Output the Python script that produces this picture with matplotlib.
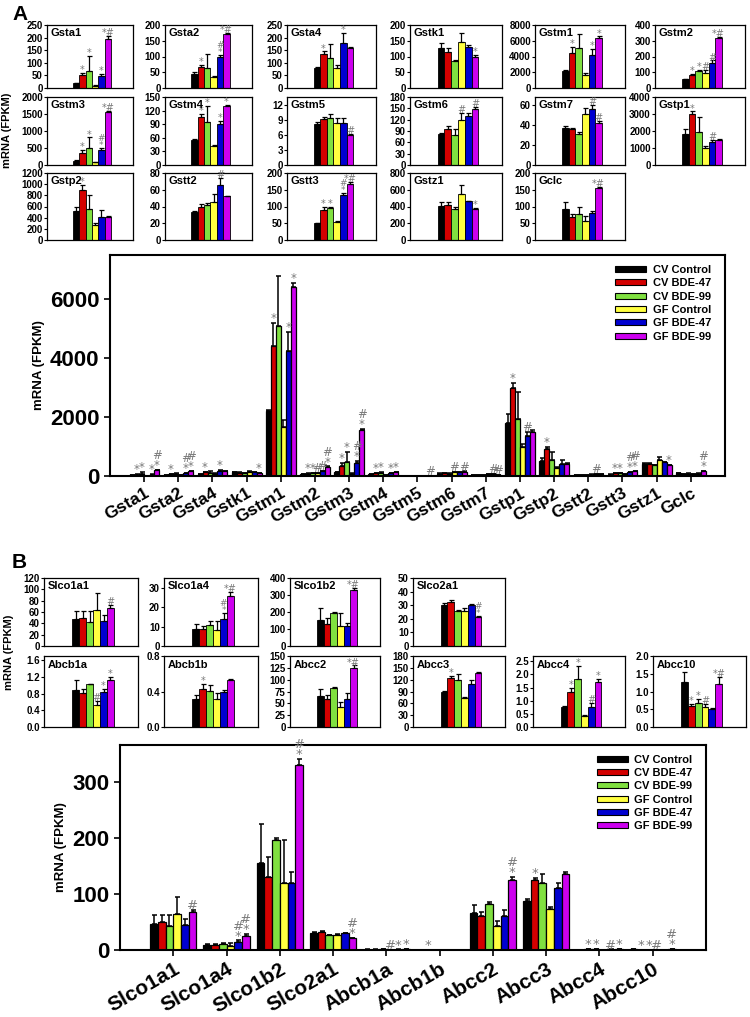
import numpy as np
import matplotlib
matplotlib.use("Agg")
import matplotlib.pyplot as plt
from matplotlib.patches import Patch

plt.rcParams['font.family'] = ['Liberation Sans', 'DejaVu Sans']
plt.rcParams['font.weight'] = 'bold'

# -------------------------------
# data
# -------------------------------
groups = ["CV Control", "CV BDE-47", "CV BDE-99", "GF Control", "GF BDE-47", "GF BDE-99"]
colors = ["#000000", "#d40000", "#80e040", "#ffff40", "#0000d0", "#cc00ee"]

genes_a = ["Gsta1", "Gsta2", "Gsta4", "Gstk1", "Gstm1", "Gstm2", "Gstm3", "Gstm4", "Gstm5",
           "Gstm6", "Gstm7", "Gstp1", "Gstp2", "Gstt2", "Gstt3", "Gstz1", "Gclc"]
mean_a = [
    [18, 50, 68, 8, 47, 195],
    [45, 68, 65, 35, 97, 170],
    [80, 135, 118, 80, 180, 160],
    [127, 113, 85, 147, 130, 100],
    [2200, 4400, 5100, 1650, 4250, 6400],
    [55, 80, 108, 95, 160, 315],
    [120, 340, 490, 80, 440, 1560],
    [55, 105, 95, 42, 90, 130],
    [8.2, 9.2, 9.4, 8.3, 8.4, 5.9],
    [83, 95, 80, 120, 130, 148],
    [37, 36, 31, 51, 56, 42],
    [1800, 3000, 1950, 1000, 1350, 1500],
    [520, 900, 550, 270, 420, 420],
    [34, 40, 42, 45, 66, 52],
    [50, 90, 96, 53, 135, 168],
    [410, 420, 375, 550, 460, 370],
    [92, 70, 78, 58, 80, 155],
]
err_a = [
    [3, 8, 60, 2, 10, 10],
    [5, 5, 42, 3, 8, 5],
    [3, 10, 58, 12, 40, 4],
    [17, 15, 3, 28, 8, 5],
    [50, 800, 1700, 250, 650, 150],
    [3, 10, 5, 18, 15, 8],
    [20, 110, 320, 20, 60, 40],
    [2, 8, 35, 3, 8, 3],
    [0.4, 0.4, 0.8, 1.0, 1.0, 0.3],
    [3, 8, 15, 18, 8, 5],
    [2, 1.5, 2, 6, 4, 2],
    [300, 150, 900, 100, 150, 50],
    [80, 80, 260, 30, 110, 15],
    [1, 3, 2, 10, 8, 1],
    [2, 8, 3, 5, 5, 4],
    [40, 30, 15, 110, 10, 15],
    [20, 8, 22, 15, 8, 3],
]
marks_a = [
    ["", "*", "*", "", "*", "*#"],
    ["", "*", "", "", "#\n*", "*#"],
    ["", "*", "", "", "*", ""],
    ["", "", "", "", "", "*"],
    ["", "*", "", "", "*", "*"],
    ["", "*", "*", "#", "#", "*#"],
    ["", "*", "*", "", "#\n*", "*#"],
    ["", "*", "*", "", "*", "*"],
    ["", "", "", "", "", "#"],
    ["", "", "", "#", "", "#"],
    ["", "", "", "", "#", "#"],
    ["", "*", "", "", "#", ""],
    ["", "*", "", "", "", ""],
    ["", "", "", "", "#", ""],
    ["", "*", "*", "", "#\n*", "*#"],
    ["", "", "", "", "", "*"],
    ["", "", "", "", "", "*#"],
]
ytop_a = [250, 200, 250, 200, 8000, 400, 2000, 150, 13.5, 180, 68, 4000, 1200, 80, 200, 800, 200]
ystep_a = [50, 50, 50, 50, 2000, 100, 500, 30, 3, 30, 20, 1000, 200, 20, 50, 200, 50]

genes_b = ["Slco1a1", "Slco1a4", "Slco1b2", "Slco2a1", "Abcb1a", "Abcb1b", "Abcc2", "Abcc3", "Abcc4", "Abcc10"]
mean_b = [
    [47, 50, 42, 64, 45, 67],
    [9, 9, 11, 8, 14, 25.5],
    [155, 130, 195, 120, 120, 330],
    [30, 32, 26, 26, 30, 21],
    [0.88, 0.82, 1.02, 0.52, 0.83, 1.12],
    [0.32, 0.43, 0.41, 0.32, 0.40, 0.53],
    [65, 60, 82, 42, 60, 125],
    [88, 124, 120, 73, 110, 136],
    [0.75, 1.35, 1.82, 0.42, 0.75, 1.70],
    [1.27, 0.58, 0.68, 0.55, 0.52, 1.20],
]
err_b = [
    [15, 12, 20, 30, 10, 5],
    [2.5, 1.5, 2, 5, 3, 2.5],
    [70, 35, 5, 75, 18, 10],
    [1.5, 1.5, 0.5, 2, 1, 1],
    [0.25, 0.1, 0.02, 0.1, 0.08, 0.08],
    [0.04, 0.05, 0.06, 0.06, 0.02, 0.01],
    [15, 8, 3, 10, 12, 5],
    [3, 5, 15, 3, 10, 3],
    [0.05, 0.15, 0.5, 0.05, 0.15, 0.12],
    [0.28, 0.07, 0.12, 0.1, 0.02, 0.22],
]
marks_b = [
    ["", "", "", "", "", "#"],
    ["", "", "", "", "#\n*", "*#"],
    ["", "", "", "", "", "*#"],
    ["", "", "", "", "", "#\n*"],
    ["", "", "", "#", "*", "*"],
    ["", "*", "", "", "", ""],
    ["", "", "", "", "", "*#"],
    ["", "*", "", "", "", ""],
    ["", "*", "*", "", "#", "*"],
    ["", "*", "*", "#", "", "*#"],
]
ytop_b = [120, 35, 400, 50, 1.7, 0.8, 150, 180, 2.7, 2.0]
ystep_b = [20, 10, 100, 10, 0.4, 0.4, 25, 30, 0.5, 0.5]
ydec_b = [0, 0, 0, 0, 1, 1, 0, 0, 1, 1]

# -------------------------------
# layout helpers
# -------------------------------
W, H = 750, 1017
fig = plt.figure(figsize=(W / 100, H / 100), dpi=100)
GREY = "#7a7a7a"
MARK_FONT = ["DejaVu Sans"]


def px_axes(x0, y0, x1, y1):
    return fig.add_axes([x0 / W, 1 - y1 / H, (x1 - x0) / W, (y1 - y0) / H])


def small_panel(box, name, means, errs, marks, ytop, ystep, ndec=0):
    ax = px_axes(*box)
    x = np.arange(6)
    ax.bar(x, means, width=1.0, color=colors, edgecolor="black", linewidth=0.6)
    ax.errorbar(x, means, yerr=[np.zeros(6), errs], fmt="none", ecolor="black",
                elinewidth=0.9, capsize=1.8, capthick=0.9)
    for xi, m, e, t in zip(x, means, errs, marks):
        if t:
            fs = 6.5 if "\n" in t else 7
            ax.annotate(t, (xi, m + e), xytext=(0, -1.5), textcoords="offset points",
                        ha="center", va="bottom", fontsize=fs, color=GREY,
                        linespacing=0.7, fontweight="normal", family=MARK_FONT)
    ax.set_xlim(-4.55, 8.95)
    ax.set_ylim(0, ytop)
    ticks = np.arange(0, ytop + 1e-9, ystep)
    ax.set_yticks(ticks)
    ax.set_yticklabels([f"{t:.{ndec}f}" for t in ticks])
    ax.tick_params(axis="y", labelsize=7, length=2, pad=1, width=0.8)
    ax.set_xticks([])
    for s in ax.spines.values():
        s.set_linewidth(0.9)
    ax.text(0.04, 0.95, name, transform=ax.transAxes, ha="left", va="top",
            fontsize=8, fontweight="bold")
    return ax


def main_panel(box, genes, means, errs, marks, ytop, yticks, xfs, yfs, mfs):
    ax = px_axes(*box)
    n = len(genes)
    pos = np.arange(1, n + 1)
    bw = 0.145
    means = np.array(means)
    errs = np.array(errs)
    for i in range(6):
        xs = pos + (i - 2.5) * bw
        ax.bar(xs, means[:, i], width=bw, color=colors[i], edgecolor="black", linewidth=0.9)
        ax.errorbar(xs, means[:, i], yerr=[np.zeros(n), errs[:, i]], fmt="none",
                    ecolor="black", elinewidth=1.1, capsize=1.8, capthick=1.1)
        for g in range(n):
            t = marks[g][i]
            if t:
                t = t.replace("*#", "#\n*")
                ax.annotate(t, (xs[g], means[g, i] + errs[g, i]), xytext=(0, -1.5),
                            textcoords="offset points", ha="center", va="bottom",
                            fontsize=mfs, color=GREY, linespacing=0.7,
                            fontweight="normal", family=MARK_FONT)
    ax.set_xlim(0, n + 1)
    ax.set_ylim(0, ytop)
    ax.set_xticks(pos)
    ax.set_xticklabels(genes, rotation=30, ha="right", rotation_mode="anchor",
                       fontsize=xfs, fontweight="bold")
    ax.set_yticks(yticks)
    ax.tick_params(axis="y", labelsize=yfs, length=4, width=1.2)
    ax.tick_params(axis="x", length=4, width=1.2, pad=3)
    for s in ax.spines.values():
        s.set_linewidth(1.5)
    ax.set_ylabel("mRNA (FPKM)", fontsize=9.5, fontweight="bold")
    handles = [Patch(facecolor=c, edgecolor="black", linewidth=0.8, label=g)
               for c, g in zip(colors, groups)]
    ax.legend(handles=handles, loc="upper right", bbox_to_anchor=(0.985, 0.975),
              frameon=False, fontsize=8, handlelength=2.8, handleheight=0.45,
              labelspacing=0.3, handletextpad=0.6, borderaxespad=0)
    return ax


# -------------------------------
# panel A
# -------------------------------
fig.text(12 / W, 1 - 14 / H, "A", fontsize=15, fontweight="bold", va="center")
cols_a = [(47, 133), (165, 252), (287, 376), (410, 502), (535, 625), (655, 745)]
rows_a = [(25, 88), (97, 165), (173, 240)]
for k, g in enumerate(genes_a):
    r, c = divmod(k, 6)
    box = (cols_a[c][0], rows_a[r][0], cols_a[c][1], rows_a[r][1])
    small_panel(box, g, mean_a[k], err_a[k], marks_a[k], ytop_a[k], ystep_a[k])
fig.text(7 / W, 1 - 130 / H, "mRNA (FPKM)", rotation=90, fontsize=8, fontweight="bold",
         ha="center", va="center")

main_panel((110, 255, 725, 476), genes_a, mean_a, err_a, marks_a, 7500,
           [0, 2000, 4000, 6000], xfs=12.5, yfs=16, mfs=8.5)

# -------------------------------
# panel B
# -------------------------------
fig.text(12 / W, 1 - 562 / H, "B", fontsize=15, fontweight="bold", va="center")
cols_b = [(44, 138), (164, 258), (290, 380), (413, 505), (533, 625), (653, 746)]
rows_b = [(578, 646), (656, 727)]
pos_b = [(0, 0), (0, 1), (0, 2), (0, 3), (1, 0), (1, 1), (1, 2), (1, 3), (1, 4), (1, 5)]
for k, g in enumerate(genes_b):
    r, c = pos_b[k]
    box = (cols_b[c][0], rows_b[r][0], cols_b[c][1], rows_b[r][1])
    small_panel(box, g, mean_b[k], err_b[k], marks_b[k], ytop_b[k], ystep_b[k], ydec_b[k])
fig.text(9 / W, 1 - 652 / H, "mRNA (FPKM)", rotation=90, fontsize=8, fontweight="bold",
         ha="center", va="center")

main_panel((120, 745, 706, 950), genes_b, mean_b, err_b, marks_b, 365,
           [0, 100, 200, 300], xfs=15, yfs=16, mfs=9.5)

fig.savefig("out.png", dpi=100)
